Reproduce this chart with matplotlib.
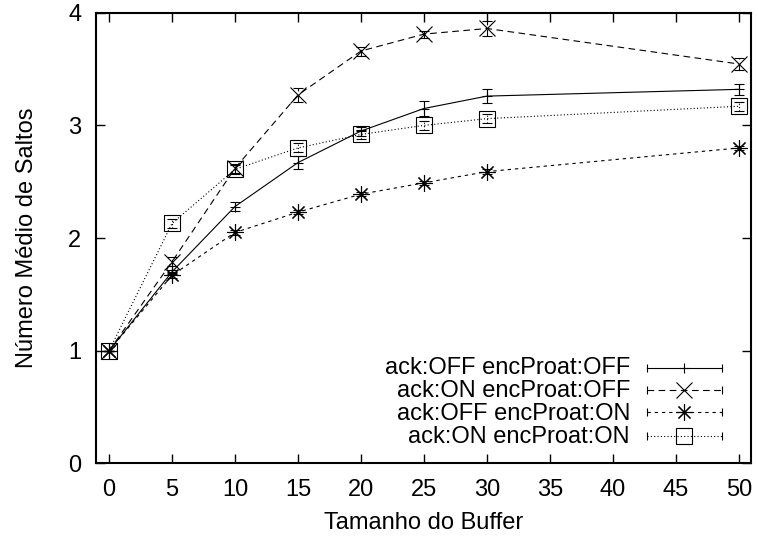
# Numero medio de saltos vs tamanho do buffer (gnuplot-like look)
import matplotlib
matplotlib.use("Agg")
import matplotlib.pyplot as plt

plt.rcParams['font.family'] = ['Liberation Sans', 'DejaVu Sans']
FONT_SIZE = 17

# data
buffer_sizes = [0, 5, 10, 15, 20, 25, 30, 50]

off_off = [1.00, 1.70, 2.28, 2.67, 2.95, 3.15, 3.26, 3.32]
off_off_err = [0.00, 0.02, 0.04, 0.06, 0.04, 0.07, 0.06, 0.05]

on_off = [1.00, 1.79, 2.62, 3.27, 3.66, 3.81, 3.86, 3.545]
on_off_err = [0.00, 0.04, 0.04, 0.06, 0.04, 0.03, 0.07, 0.05]

off_on = [1.00, 1.67, 2.05, 2.23, 2.39, 2.49, 2.59, 2.80]
off_on_err = [0.00, 0.02, 0.02, 0.02, 0.02, 0.02, 0.02, 0.02]

on_on = [1.00, 2.13, 2.61, 2.80, 2.92, 3.00, 3.06, 3.17]
on_on_err = [0.00, 0.04, 0.04, 0.04, 0.04, 0.04, 0.04, 0.04]

labels = ["ack:OFF encProat:OFF", "ack:ON encProat:OFF",
          "ack:OFF encProat:ON", "ack:ON encProat:ON"]
x_ticks = [0, 5, 10, 15, 20, 25, 30, 35, 40, 45, 50]
y_ticks = [0, 1, 2, 3, 4]

# styles: (linestyle, marker, markersize)
styles = [
    ("-", "+", 7.5),
    ((0, (6, 4)), "x", 11),
    ((0, (3, 3.5)), (8, 2, 0), 12),
    ((0, (1, 2)), "s", 11),
]
series = [(off_off, off_off_err), (on_off, on_off_err),
          (off_on, off_on_err), (on_on, on_on_err)]

fig = plt.figure(figsize=(7.58, 5.41), dpi=100)
ax = fig.add_axes([0.1272, 0.1433, 0.8642, 0.8332])

for (vals, errs), (ls, mk, ms) in zip(series, styles):
    cont = ax.errorbar(buffer_sizes, vals, yerr=errs, color="black",
                       linestyle=ls, linewidth=0.8, marker=mk, markersize=ms,
                       markeredgewidth=0.8, markerfacecolor="none",
                       capsize=3.6, capthick=0.8, elinewidth=0.8)
    for bar in cont[2]:
        bar.set_linestyle(ls if ls != "-" else "solid")

ax.set_xlim(-1, 51)
ax.set_ylim(0, 4)
ax.set_xticks(x_ticks)
ax.set_yticks(y_ticks)
ax.tick_params(direction="in", length=6.5, width=1.0, top=True, right=True,
               labelsize=FONT_SIZE)
ax.tick_params(axis="x", pad=11)
ax.tick_params(axis="y", pad=11)
for spine in ax.spines.values():
    spine.set_linewidth(1.5)

ax.set_xlabel("Tamanho do Buffer", fontsize=FONT_SIZE)
ax.set_ylabel("Número Médio de Saltos", fontsize=FONT_SIZE)
ax.xaxis.set_label_coords(0.5, -0.107)
ax.yaxis.set_label_coords(-0.089, 0.5)

# gnuplot-style key, drawn by hand in axes fraction
key_text_y = [0.1985, 0.1469, 0.0965, 0.0448]
key_line_y = [0.2118, 0.1630, 0.1131, 0.0616]
for label, (ls, mk, ms), ty, ly in zip(labels, styles, key_text_y, key_line_y):
    ax.text(0.8145, ty, label, transform=ax.transAxes, ha="right",
            va="baseline", fontsize=FONT_SIZE)
    ax.plot([0.840, 0.955], [ly, ly], transform=ax.transAxes,
            color="black", linestyle=ls, linewidth=0.8)
    ax.plot([0.840, 0.955], [ly, ly], transform=ax.transAxes,
            color="black", linestyle="none", marker="|", markersize=6,
            markeredgewidth=0.8)
    ax.plot([0.8975], [ly], transform=ax.transAxes, color="black",
            marker=mk, markersize=ms, markeredgewidth=0.8,
            markerfacecolor="none")

fig.savefig("out.png", dpi=100)
